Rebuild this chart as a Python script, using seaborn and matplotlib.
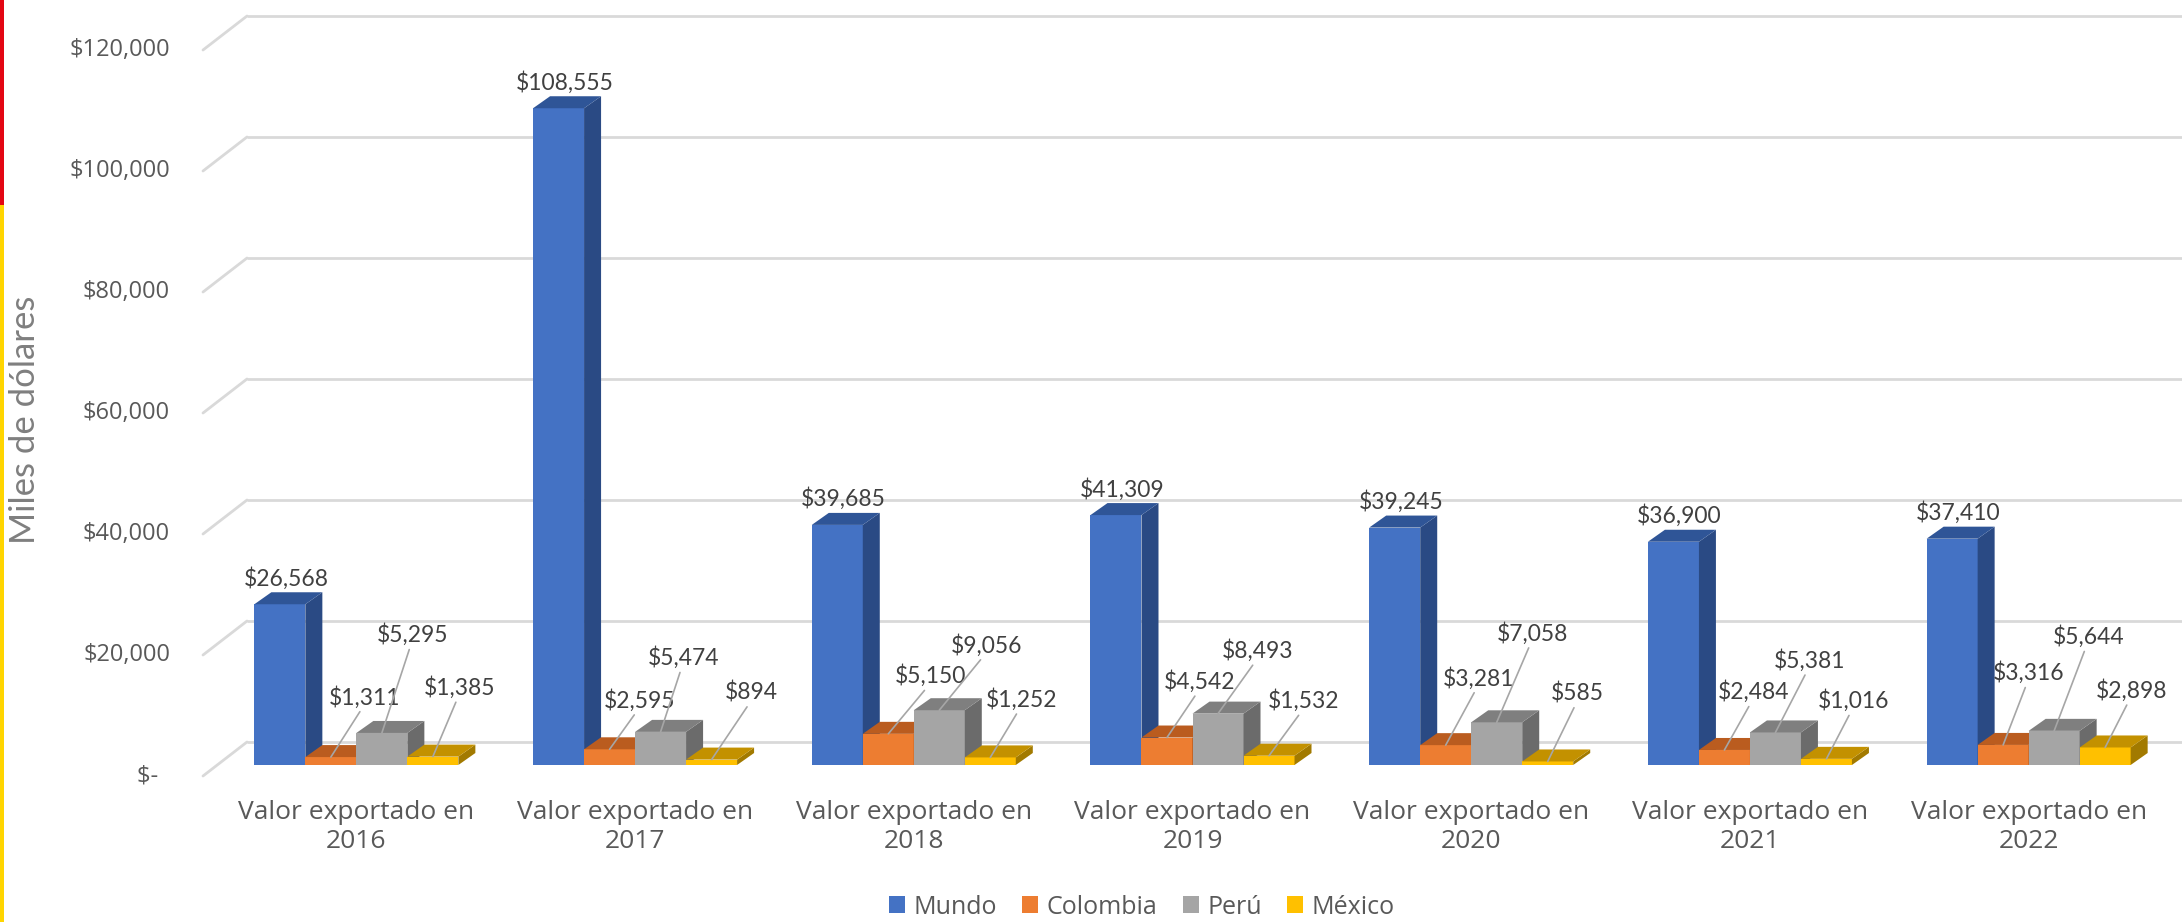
import numpy as np
import pandas as pd
import matplotlib
matplotlib.use("Agg")
import matplotlib.pyplot as plt
import seaborn as sns
from matplotlib.patches import Polygon, Rectangle
from matplotlib import font_manager
from matplotlib.transforms import ScaledTranslation

# ---------------- data ----------------
years = ["2016", "2017", "2018", "2019", "2020", "2021", "2022"]
categories = [f"Valor exportado en\n{y}" for y in years]
series = ["Mundo", "Colombia", "Perú", "México"]
mundo = [26568, 108555, 39685, 41309, 39245, 36900, 37410]
colombia = [1311, 2595, 5150, 4542, 3281, 2484, 3316]
peru = [5295, 5474, 9056, 8493, 7058, 5381, 5644]
mexico = [1385, 894, 1252, 1532, 585, 1016, 2898]
y_ticks = [0, 20000, 40000, 60000, 80000, 100000, 120000]
y_tick_labels = ["$-  ", "$20,000", "$40,000", "$60,000", "$80,000", "$100,000", "$120,000"]
y_title = "Miles de dólares"

# ---------------- layout / style ----------------
front_colors = ["#4472C4", "#ED7D31", "#A5A5A5", "#FFC000"]
top_colors = ["#2F5597", "#BA5C1F", "#7F7F7F", "#C39100"]
side_colors = ["#2A4A84", "#A04E18", "#6B6B6B", "#A27A00"]
# label offsets (pixels) from front-top centre of small bars
label_offsets = {
    "Colombia": [(34, 60), (30, 49), (42, 58), (33, 56), (33, 67), (29, 58), (26, 72)],
    "Perú": [(31, 98), (23, 74), (47, 65), (40, 63), (36, 89), (34, 72), (34, 94)],
    "México": [(27, 69), (40, 67), (31, 58), (35, 55), (30, 68), (27, 58), (26, 57)],
}

names = {f.name for f in font_manager.fontManager.ttflist}
narrow_ok = "Liberation Sans Narrow" in names

W, H = 2182, 922
DPI = 100
sns.set_style("white")
plt.rcParams["font.family"] = ["Open Sans", "DejaVu Sans"]

df = pd.DataFrame({
    "categoria": categories * 4,
    "valor": mundo + colombia + peru + mexico,
    "pais": sum([[s] * len(categories) for s in series], []),
})

fig = plt.figure(figsize=(W / DPI, H / DPI), dpi=DPI)
ax = fig.add_axes([217 / W, 157 / H, (2168 - 217) / W, 726 / H])
sns.barplot(data=df, x="categoria", y="valor", hue="pais", hue_order=series,
            order=categories, palette=front_colors, saturation=1, width=0.732,
            errorbar=None, linewidth=0, ax=ax, legend=True)
ax.set_xlim(-0.5, 6.5)
ax.set_ylim(0, 120000)
for s in ax.spines.values():
    s.set_visible(False)
ax.set_xlabel("")
ax.set_ylabel("")
ax.grid(False)

# pixel -> data conversions
p0 = ax.transData.transform((0, 0))
px_x = ax.transData.transform((1, 0))[0] - p0[0]
px_y = ax.transData.transform((0, 1))[1] - p0[1]
ddx, ddy = 17 / px_x, 12 / px_y

def off(dx, dy):
    return ax.transData + ScaledTranslation(dx / DPI, dy / DPI, fig.dpi_scale_trans)

grid_c = "#D9D9D9"
# back wall gridlines + left floor diagonals
for v, lab in zip(y_ticks, y_tick_labels):
    ax.plot([-0.5, 6.7], [v, v], color=grid_c, lw=2, transform=off(30, 23),
            clip_on=False, zorder=1, solid_capstyle="butt")
    a = ax.transData.transform((-0.5, v))
    ax.plot([a[0] - 14, a[0] + 30], [a[1] - 11, a[1] + 23], color=grid_c, lw=2,
            transform=None, clip_on=False, zorder=1)
    ax.text(-0.5, v, lab, transform=off(-47, -11),
            ha="right", va="center", fontsize=17, color="#595959")

# 3D faces
bars = []
for si, cont in enumerate(ax.containers):
    for ci, p in enumerate(cont.patches):
        bars.append((p.get_x(), si, ci, p))
bars.sort(key=lambda b: b[0])
for k, (_, si, ci, p) in enumerate(bars):
    z = 3 + k * 0.01
    x0, w, h = p.get_x(), p.get_width(), p.get_height()
    x1 = x0 + w
    p.set_zorder(z)
    side = Polygon([(x1, 0), (x1 + ddx, ddy), (x1 + ddx, h + ddy), (x1, h)],
                   closed=True, facecolor=side_colors[si], edgecolor="none", zorder=z)
    top = Polygon([(x0, h), (x1, h), (x1 + ddx, h + ddy), (x0 + ddx, h + ddy)],
                  closed=True, facecolor=top_colors[si], edgecolor="none", zorder=z)
    ax.add_patch(side)
    ax.add_patch(top)

# data labels
for si, cont in enumerate(ax.containers):
    name = series[si]
    for ci, p in enumerate(cont.patches):
        cx = p.get_x() + p.get_width() / 2
        h = p.get_height()
        txt = f"${h:,.0f}"
        if name == "Mundo":
            ax.annotate(txt, xy=(cx, h), xytext=(6, 26), textcoords="offset pixels",
                        ha="center", va="center", fontsize=16.5, color="#404040",
                        family=["Lato", "DejaVu Sans"], zorder=10)
        else:
            dx, dy = label_offsets[name][ci]
            ax.annotate(txt, xy=(cx, h), xytext=(dx, dy), textcoords="offset pixels",
                        ha="center", va="center", fontsize=16.5, color="#404040",
                        family=["Lato", "DejaVu Sans"], zorder=10,
                        arrowprops=dict(arrowstyle="-", color="#A6A6A6", lw=1.2,
                                        shrinkA=0, shrinkB=0, relpos=(0.47, 0.05)))

# category tick labels
ax.tick_params(axis="x", length=0, pad=25, labelsize=19, labelcolor="#595959")
for t in ax.get_xticklabels():
    t.set_linespacing(1.2)
ax.set_yticks([])

# y title
if narrow_ok:
    fig.text(25 / W, 1 - 420 / H, y_title, rotation=90, ha="center", va="center",
             fontsize=27, color="#7F7F7F", family=["Liberation Sans Narrow", "DejaVu Sans"])
else:
    fig.text(25 / W, 1 - 420 / H, y_title, rotation=90, ha="center", va="center",
             fontsize=25, color="#7F7F7F", family=["Lato", "DejaVu Sans"], fontweight="normal")

# legend
sns.move_legend(ax, "center", bbox_to_anchor=(1142 / W, 1 - 907 / H),
                bbox_transform=fig.transFigure, ncol=4, frameon=False, title=None,
                fontsize=18, handlelength=0.64, handleheight=0.64,
                handletextpad=0.35, columnspacing=1.0)
for t in ax.get_legend().get_texts():
    t.set_color("#595959")

# left decorative stripe
fig.patches.append(Rectangle((0, 1 - 205 / H), 4 / W, 205 / H, transform=fig.transFigure,
                             facecolor="#E30613", edgecolor="none"))
fig.patches.append(Rectangle((0, 0), 4 / W, 1 - 205 / H, transform=fig.transFigure,
                             facecolor="#FFD500", edgecolor="none"))

fig.savefig("out.png", dpi=DPI, facecolor="white")
